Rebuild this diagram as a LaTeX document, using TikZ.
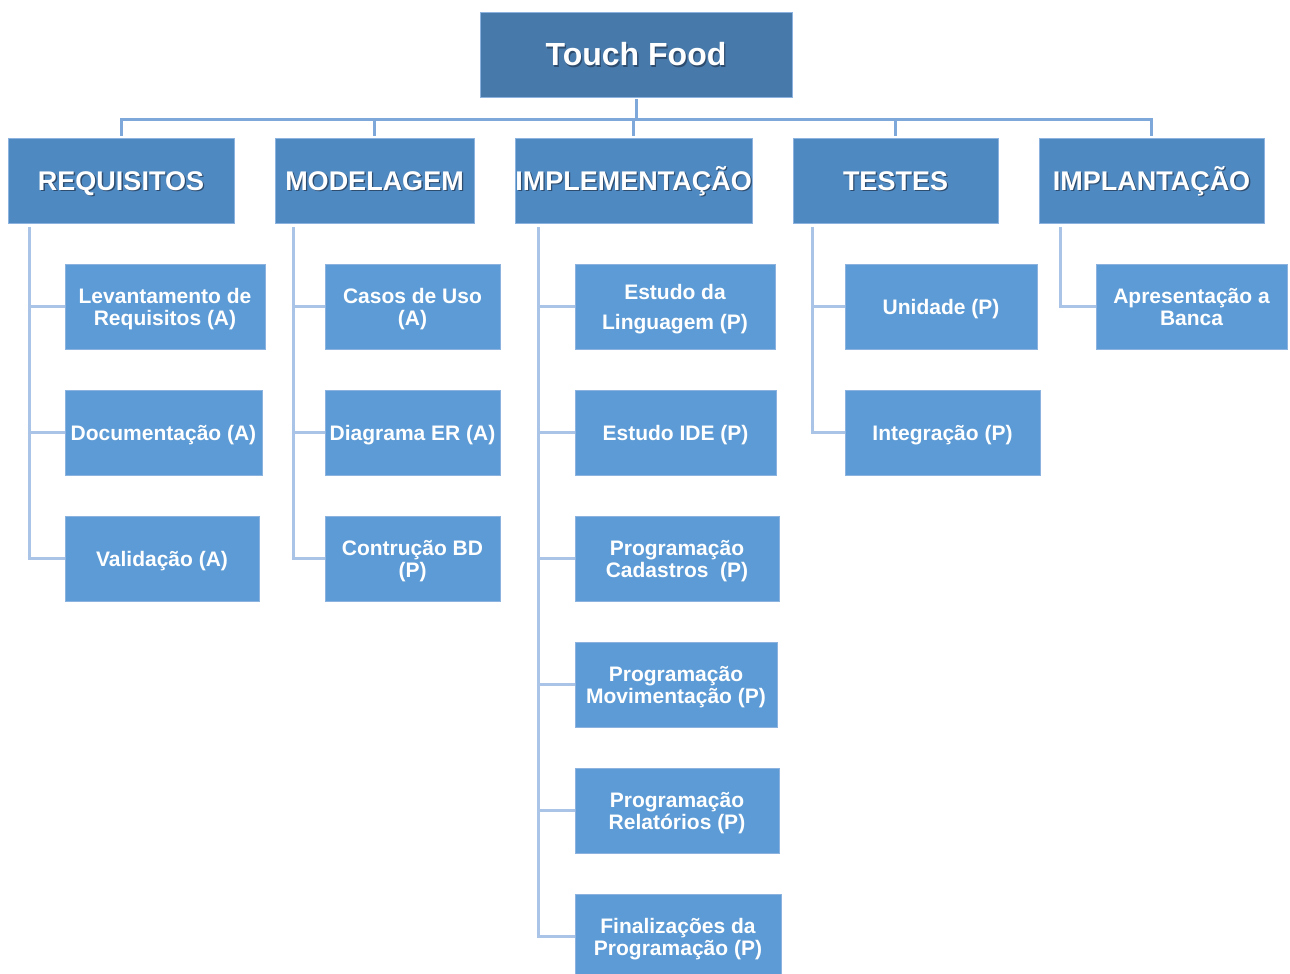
\documentclass[tikz,border=0pt]{standalone}
\usepackage{fontspec}
\setmainfont{Liberation Sans}
\definecolor{rootfill}{HTML}{4779AA}
\definecolor{phasefill}{HTML}{4F89C1}
\definecolor{taskfill}{HTML}{5C9BD5}
\definecolor{edgec}{HTML}{8CB3DF}
\definecolor{busline}{HTML}{7EA8DA}
\definecolor{legline}{HTML}{A9C4E6}
\definecolor{shadowc}{HTML}{2E4C6E}
% white title text with a soft drop shadow
\newcommand\shtext[1]{\leavevmode\rlap{\kern1.3pt\raisebox{-1.3pt}{\textcolor{shadowc}{#1}}}#1}
\tikzset{
  x=1pt, y=-1pt,
  basebox/.style={anchor=north west, inner sep=0pt, outer sep=0pt,
    draw=edgec, line width=0.8pt, text=white, align=center, text depth=0pt},
  rootbox/.style={basebox, fill=rootfill, minimum width=312pt, minimum height=85pt,
    font=\bfseries\fontsize{32}{36}\selectfont, text height=23pt},
  phasebox/.style={basebox, fill=phasefill, minimum height=85pt,
    font=\bfseries\fontsize{27}{31}\selectfont, text height=19.4pt},
  taskbox/.style={basebox, fill=taskfill, minimum height=85pt,
    font=\bfseries\fontsize{21}{22}\selectfont, text height=15pt},
  twoline/.style={text height=37pt},
  busedge/.style={draw=busline, line width=3pt},
  legedge/.style={draw=legline, line width=3pt},
}
\begin{document}
\begin{tikzpicture}
\useasboundingbox (0,0) rectangle (1290,974);

% root
\node[rootbox] (root) at (480,12) {\shtext{Touch Food}};

% phases
\node[phasebox, minimum width=226pt] (req)  at (8,138)    {\shtext{REQUISITOS}};
\node[phasebox, minimum width=199pt] (mod)  at (275,138)  {\shtext{MODELAGEM}};
\node[phasebox, minimum width=237pt] (impl) at (515,138)  {\shtext{IMPLEMENTAÇÃO}};
\node[phasebox, minimum width=205pt] (test) at (793,138)  {\shtext{TESTES}};
\node[phasebox, minimum width=225pt] (dep)  at (1039,138) {\shtext{IMPLANTAÇÃO}};

% REQUISITOS tasks
\node[taskbox, twoline, minimum width=200pt] (r1) at (65,264) {Levantamento de\\Requisitos (A)};
\node[taskbox, minimum width=197pt] (r2) at (65,390) {Documentação (A)};
\node[taskbox, minimum width=194pt] (r3) at (65,516) {Validação (A)};

% MODELAGEM tasks
\node[taskbox, twoline, minimum width=175pt] (m1) at (325,264) {Casos de Uso\\(A)};
\node[taskbox, minimum width=175pt] (m2) at (325,390) {Diagrama ER (A)};
\node[taskbox, twoline, minimum width=175pt] (m3) at (325,516) {Contrução BD\\(P)};

% IMPLEMENTACAO tasks
\node[taskbox, text height=45pt, minimum width=200pt] (i1) at (575,264) {Estudo da\\[8pt]Linguagem (P)};
\node[taskbox, minimum width=201pt] (i2) at (575,390) {Estudo IDE (P)};
\node[taskbox, twoline, minimum width=204pt] (i3) at (575,516) {Programação\\Cadastros\ \ (P)};
\node[taskbox, twoline, minimum width=202pt] (i4) at (575,642) {Programação\\Movimentação (P)};
\node[taskbox, twoline, minimum width=204pt] (i5) at (575,768) {Programação\\Relatórios (P)};
\node[taskbox, twoline, minimum width=206pt] (i6) at (575,894) {Finalizações da\\Programação (P)};

% TESTES tasks
\node[taskbox, minimum width=192pt] (t1) at (845,264) {Unidade (P)};
\node[taskbox, minimum width=195pt] (t2) at (845,390) {Integração (P)};

% IMPLANTACAO task
\node[taskbox, twoline, minimum width=191pt] (d1) at (1096,264) {Apresentação a\\Banca};

% bus from the root to the phases
\draw[busedge] ([yshift=-2pt]root.south) -- ++(0,20) coordinate (hub);
\foreach \p in {req,mod,impl,test,dep}
  \draw[busedge] ([yshift=2pt]\p.north) |- (hub);

% legs from each phase down to its tasks
\foreach \p/\dx/\kids in {req/21/{r1,r2,r3}, mod/18/{m1,m2,m3},
    impl/23/{i1,i2,i3,i4,i5,i6}, test/19/{t1,t2}, dep/21/{d1}}
  \foreach \k in \kids
    \draw[legedge] ([xshift=\dx pt, yshift=-4pt]\p.south west) |- (\k.west);
\end{tikzpicture}
\end{document}
